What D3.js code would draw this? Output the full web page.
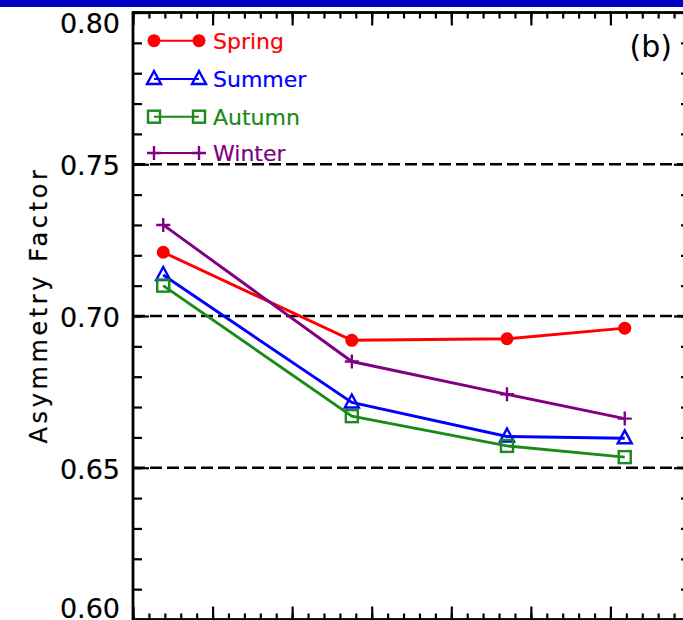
<!DOCTYPE html>
<html>
<head>
<meta charset="utf-8">
<script src="https://cdnjs.cloudflare.com/ajax/libs/d3/7.8.5/d3.min.js"></script>
<style>
body { margin: 0; background: #fff; }
svg { display: block; }
</style>
</head>
<body>
<svg id="canvas" width="683" height="620"></svg>
<script>
// data (x in axis units, one major tick = 1)
var xPos = [0.38, 2.75, 4.70, 6.18];
var seasons = ['Spring', 'Summer', 'Autumn', 'Winter'];
var spring = [0.721, 0.692, 0.6925, 0.696];
var summer = [0.7135, 0.6715, 0.6603, 0.6597];
var autumn = [0.710, 0.667, 0.6572, 0.6535];
var winter = [0.730, 0.685, 0.6742, 0.6662];
var yTicks = [0.60, 0.65, 0.70, 0.75, 0.80];
var refLines = [0.65, 0.70, 0.75];

var series = [
  {name: seasons[0], values: spring, color: '#ff0000', sym: 'circle'},
  {name: seasons[1], values: summer, color: '#0000ff', sym: 'triangle'},
  {name: seasons[2], values: autumn, color: '#1a8a1a', sym: 'square'},
  {name: seasons[3], values: winter, color: '#800080', sym: 'plus'}
];

var svg = d3.select('#canvas');
// note: "top" is taken by window.top, so plot edges get a prefix
var pLeft = 133, pRight = 690, pTop = 12.5, pBottom = 619.5;

var x = d3.scaleLinear().domain([0, 7]).range([pLeft, pRight]);
var y = d3.scaleLinear().domain([0.60, 0.80]).range([pBottom, pTop]);

// blue strip along the top
svg.append('rect').attr('x', 0).attr('y', 0).attr('width', 683).attr('height', 7).style('fill', '#0000c4');

// reference dashed lines
svg.selectAll('.ref').data(refLines).enter().append('line')
  .attr('x1', pLeft).attr('x2', pRight)
  .attr('y1', function(d) { return y(d); }).attr('y2', function(d) { return y(d); })
  .style('stroke', '#000').style('stroke-width', 2.5).style('stroke-dasharray', '12,5');

// axes: major + minor ticks on all four sides, no x labels (cropped)
function tickAxis(axisFn, scale, ticks, size, tx, ty) {
  svg.append('g').attr('transform', 'translate(' + tx + ',' + ty + ')')
    .call(axisFn(scale).tickValues(ticks).tickSize(size).tickFormat(''))
    .call(function(g) {
      g.select('.domain').remove();
      g.selectAll('line').style('stroke', '#000').style('stroke-width', 2.2);
    });
}
var xMajor = d3.range(0, 7.01, 1);
var xMinor = d3.range(0, 7.01, 0.2);
var yMajor = d3.range(0.60, 0.8001, 0.05);
var yMinor = d3.range(0.60, 0.8001, 0.01);

tickAxis(d3.axisTop, x, xMinor, 6, 0, pBottom);
tickAxis(d3.axisTop, x, xMajor, 13, 0, pBottom);
tickAxis(d3.axisBottom, x, xMinor, 6, 0, pTop);
tickAxis(d3.axisBottom, x, xMajor, 13, 0, pTop);
tickAxis(d3.axisRight, y, yMinor, 9, pLeft, 0);
tickAxis(d3.axisRight, y, yMajor, 16, pLeft, 0);
tickAxis(d3.axisLeft, y, yMinor, 9, pRight, 0);
tickAxis(d3.axisLeft, y, yMajor, 16, pRight, 0);

svg.append('rect')
  .attr('x', pLeft).attr('y', pTop).attr('width', pRight - pLeft).attr('height', pBottom - pTop)
  .style('fill', 'none').style('stroke', '#000').style('stroke-width', 2.8);

// y tick labels
svg.selectAll('.ylab').data(yTicks).enter().append('text')
  .attr('x', 120)
  .attr('y', function(d) { return Math.min(Math.max(y(d) + 11, 33), 618); })
  .attr('text-anchor', 'end')
  .style('font-family', 'DejaVu Sans').style('font-size', '27px').style('fill', '#000')
  .style('stroke', '#000').style('stroke-width', 0.2)
  .text(function(d) { return d.toFixed(2); });

svg.append('text')
  .attr('transform', 'translate(47,305) rotate(-90)')
  .attr('text-anchor', 'middle')
  .style('font-family', 'DejaVu Sans').style('font-size', '24px').style('letter-spacing', '3.6px')
  .style('stroke', '#000').style('stroke-width', 0.2)
  .text('Asymmetry Factor');

svg.append('text')
  .attr('x', 672).attr('y', 57).attr('text-anchor', 'end')
  .style('font-family', 'DejaVu Sans').style('font-size', '30px')
  .text('(b)');

function drawSymbol(g, sym, cx, cy, color) {
  if (sym === 'circle') {
    g.append('circle').attr('cx', cx).attr('cy', cy).attr('r', 6.5).style('fill', color);
  } else if (sym === 'triangle') {
    g.append('path').attr('d', 'M' + cx + ',' + (cy - 8) + 'L' + (cx + 7) + ',' + (cy + 5) + 'L' + (cx - 7) + ',' + (cy + 5) + 'Z')
      .style('fill', 'none').style('stroke', color).style('stroke-width', 2.4);
  } else if (sym === 'square') {
    g.append('rect').attr('x', cx - 6).attr('y', cy - 6).attr('width', 12).attr('height', 12)
      .style('fill', 'none').style('stroke', color).style('stroke-width', 2.4);
  } else {
    g.append('path').attr('d', 'M' + (cx - 7) + ',' + cy + 'H' + (cx + 7) + 'M' + cx + ',' + (cy - 7) + 'V' + (cy + 7))
      .style('fill', 'none').style('stroke', color).style('stroke-width', 2.4);
  }
}

var line = d3.line()
  .x(function(d, i) { return x(xPos[i]); })
  .y(function(d) { return y(d); });

series.forEach(function(s) {
  var g = svg.append('g');
  g.append('path').attr('d', line(s.values))
    .style('fill', 'none').style('stroke', s.color).style('stroke-width', 2.9);
  s.values.forEach(function(v, i) { drawSymbol(g, s.sym, x(xPos[i]), y(v), s.color); });
});

// legend
var legY = [40.7, 79, 116.7, 153];
series.forEach(function(s, i) {
  var g = svg.append('g');
  g.append('line').attr('x1', 154).attr('x2', 199).attr('y1', legY[i]).attr('y2', legY[i])
    .style('stroke', s.color).style('stroke-width', 2);
  drawSymbol(g, s.sym, 154, legY[i], s.color);
  drawSymbol(g, s.sym, 199, legY[i], s.color);
  g.append('text').attr('x', 213).attr('y', legY[i] + 8)
    .style('font-family', 'DejaVu Sans').style('font-size', '22px').style('fill', s.color)
    .style('stroke', s.color).style('stroke-width', 0.2)
    .text(s.name);
});
</script>
</body>
</html>
